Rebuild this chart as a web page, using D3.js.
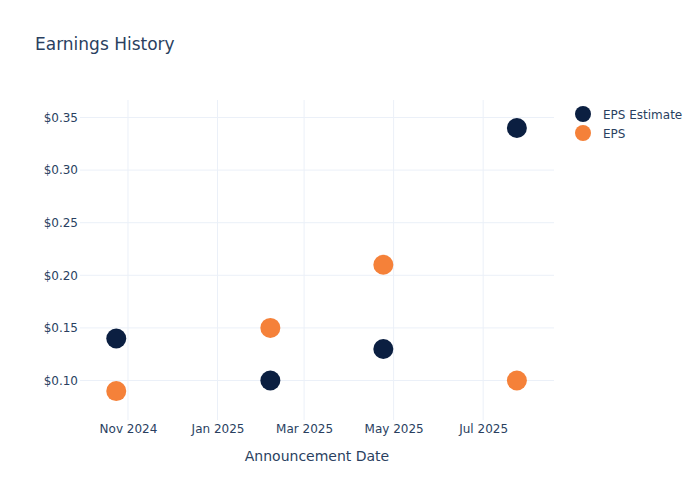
<!DOCTYPE html>
<html><head><meta charset="utf-8">
<script src="https://cdn.jsdelivr.net/npm/d3@7"></script>
<style>body{margin:0;background:#fff;} svg{display:block;font-family:"DejaVu Sans",Verdana,sans-serif;}</style>
</head><body>
<svg id="c" width="700" height="500"></svg>
<script>
const dates = ["2024-10-24","2025-02-06","2025-04-24","2025-07-24"];
const epsEstimate = [0.14, 0.10, 0.13, 0.34];
const eps = [0.09, 0.15, 0.21, 0.10];
const seriesNames = ["EPS Estimate","EPS"];
const seriesColors = ["#0b1f41","#f58139"];
const yTicks = [0.10,0.15,0.20,0.25,0.30,0.35];
const xTickDates = ["2024-11-01","2025-01-01","2025-03-01","2025-05-01","2025-07-01"];

const parse = d3.utcParse("%Y-%m-%d");
const svg = d3.select("#c");
const L=80, R=554, T=100, B=420;
const x = d3.scaleUtc().domain([new Date(Date.UTC(2024,8,29,7)), new Date(Date.UTC(2025,7,18,7))]).range([L,R]);
const y = d3.scaleLinear().domain([0.0625,0.3666]).range([B,T]);
const textColor = "#2a3f5f", gridColor = "#ebf0f8";

// grid
svg.append("g").selectAll("line").data(xTickDates.map(parse)).join("line")
  .attr("x1",d=>x(d)).attr("x2",d=>x(d)).attr("y1",T).attr("y2",B)
  .attr("stroke",gridColor).attr("stroke-width",1);
svg.append("g").selectAll("line").data(yTicks).join("line")
  .attr("x1",L).attr("x2",R).attr("y1",d=>y(d)).attr("y2",d=>y(d))
  .attr("stroke",gridColor).attr("stroke-width",1);

// axes
const xAxis = d3.axisBottom(x).tickValues(xTickDates.map(parse)).tickFormat(d3.utcFormat("%b %Y")).tickSize(0).tickPadding(4);
const gx = svg.append("g").attr("transform",`translate(0,${B})`).call(xAxis);
gx.select(".domain").remove();
gx.selectAll("text").attr("fill",textColor).attr("font-size",12).attr("font-family","DejaVu Sans, sans-serif");

const yAxis = d3.axisLeft(y).tickValues(yTicks).tickFormat(d=>"$"+d.toFixed(2)).tickSize(0).tickPadding(2);
const gy = svg.append("g").attr("transform",`translate(${L},0)`).call(yAxis);
gy.select(".domain").remove();
gy.selectAll("text").attr("fill",textColor).attr("font-size",12).attr("font-family","DejaVu Sans, sans-serif");

// points
const series = [epsEstimate, eps];
series.forEach((vals,i)=>{
  svg.append("g").selectAll("circle").data(vals.map((v,j)=>({d:parse(dates[j]),v}))).join("circle")
    .attr("cx",p=>x(p.d)).attr("cy",p=>y(p.v)).attr("r",10).attr("fill",seriesColors[i]);
});

// title
svg.append("text").attr("x",35).attr("y",50).attr("font-size",17).attr("fill",textColor).text("Earnings History");
svg.append("text").attr("x",(L+R)/2).attr("y",461).attr("text-anchor","middle").attr("font-size",14).attr("fill",textColor).text("Announcement Date");

// legend
const lg = svg.append("g");
seriesNames.forEach((n,i)=>{
  const cy = 114 + i*19;
  lg.append("circle").attr("cx",583).attr("cy",cy).attr("r",8).attr("fill",seriesColors[i]);
  lg.append("text").attr("x",603).attr("y",cy+4.5).attr("font-size",12).attr("fill",textColor).text(n);
});
</script>
</body></html>
